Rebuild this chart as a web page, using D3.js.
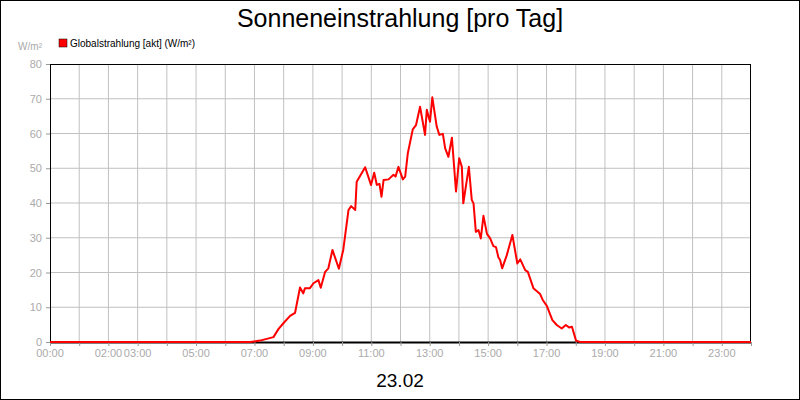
<!DOCTYPE html>
<html><head><meta charset="utf-8">
<script src="https://cdn.jsdelivr.net/npm/d3@7"></script>
<style>body{margin:0;background:#fff}svg{display:block}</style>
</head><body>
<svg id="c" width="800" height="400"></svg>
<script>
const hours=[0,6.85,7.19,7.65,7.82,7.99,8.22,8.39,8.56,8.67,8.73,8.90,9.02,9.19,9.27,9.42,9.53,9.67,9.89,10.04,10.22,10.31,10.45,10.50,10.79,10.99,11.10,11.19,11.28,11.35,11.42,11.59,11.76,11.83,11.93,12.08,12.16,12.25,12.42,12.53,12.67,12.84,12.90,13.01,13.09,13.24,13.33,13.45,13.53,13.64,13.76,13.90,14.01,14.10,14.15,14.34,14.44,14.50,14.58,14.67,14.75,14.84,14.96,15.07,15.18,15.27,15.35,15.41,15.48,15.64,15.83,16.00,16.10,16.27,16.36,16.55,16.78,16.87,17.01,17.20,17.35,17.52,17.66,17.77,17.87,18.01,18.15,24];
const values=[0,0,0.4,1.4,3.7,5.4,7.5,8.4,15.7,14.0,15.5,15.5,16.9,17.8,15.6,20.2,21.2,26.5,21.1,26.5,38.0,39.1,38.0,46.1,50.3,45.2,48.7,45.2,45.5,41.8,46.6,46.8,48.1,47.6,50.4,46.8,47.6,54.3,61.2,62.4,67.7,59.6,66.8,63.4,70.4,62.0,59.6,59.9,55.7,53.3,58.8,43.3,52.9,50.4,39.9,50.4,40.9,39.9,31.7,32.2,29.8,36.3,31.1,29.8,27.6,27.3,24.4,23.6,21.2,25.0,30.8,22.6,23.8,20.7,20.2,15.5,13.8,12.1,10.4,6.3,4.9,3.9,4.9,4.2,4.4,0.4,0,0];
const xTickHours=[0,2,3,5,7,9,11,13,15,17,19,21,23];
const yTicks=[0,10,20,30,40,50,60,70,80];
const title="Sonneneinstrahlung [pro Tag]", legendLabel="Globalstrahlung [akt] (W/m²)", unit="W/m²", dateLabel="23.02";

const svg=d3.select("#c");
svg.append("rect").attr("x",0.5).attr("y",0.5).attr("width",799).attr("height",399).attr("fill","#fff").attr("stroke","#000");
const L=50,R=751,T=64,B=342;
const x=d3.scaleLinear().domain([0,24]).range([L,R]);
const y=d3.scaleLinear().domain([0,80]).range([B,T]);
const g=svg.append("g");
g.selectAll(".vg").data(d3.range(1,24)).join("line").attr("x1",d=>x(d)).attr("x2",d=>x(d)).attr("y1",T).attr("y2",B).attr("stroke","#c0c0c0");
g.selectAll(".hg").data(yTicks.slice(1,-1)).join("line").attr("x1",L).attr("x2",R).attr("y1",d=>y(d)).attr("y2",d=>y(d)).attr("stroke","#c0c0c0");
svg.append("rect").attr("x",L+0.5).attr("y",T+0.5).attr("width",R-L-1).attr("height",B-T).attr("fill","none").attr("stroke","#000");
svg.append("line").attr("x1",L).attr("x2",R).attr("y1",B+0.5).attr("y2",B+0.5).attr("stroke","#000").attr("stroke-width",2);
svg.selectAll(".yt").data(yTicks).join("line").attr("x1",L-4).attr("x2",L).attr("y1",d=>y(d)+0.5).attr("y2",d=>y(d)+0.5).attr("stroke","#999");
svg.selectAll(".yl").data(yTicks).join("text").attr("x",L-8).attr("y",d=>y(d)+4).attr("text-anchor","end").attr("font-family","Liberation Sans, Arial").attr("font-size",11).attr("fill","#aaa").text(d=>d);
svg.selectAll(".xt").data(d3.range(0,25)).join("line").attr("x1",d=>x(d)+0.5).attr("x2",d=>x(d)+0.5).attr("y1",B).attr("y2",B+4).attr("stroke","#999");
svg.selectAll(".xl").data(xTickHours).join("text").attr("x",d=>x(d)).attr("y",B+15).attr("text-anchor","middle").attr("font-family","Liberation Sans, Arial").attr("font-size",11).attr("fill","#aaa").text(d=>String(d).padStart(2,"0")+":00");
const line=d3.line().x((d,i)=>x(hours[i])).y(d=>y(d));
svg.append("path").datum(values).attr("d",line).attr("fill","none").attr("stroke","#f00").attr("stroke-width",2).attr("stroke-linejoin","round");
svg.append("text").attr("x",400).attr("y",27).attr("text-anchor","middle").attr("font-family","Liberation Sans, Arial").attr("font-size",25).text(title);
svg.append("text").attr("x",L-8).attr("y",50).attr("text-anchor","end").attr("font-family","Liberation Sans, Arial").attr("font-size",10).attr("fill","#aaa").text(unit);
svg.append("rect").attr("x",59).attr("y",39).attr("width",8).attr("height",8).attr("fill","#f00").attr("stroke","#000").attr("stroke-width",0.5);
svg.append("text").attr("x",70).attr("y",47).attr("font-family","Liberation Sans, Arial").attr("font-size",10).text(legendLabel);
svg.append("text").attr("x",400).attr("y",387).attr("text-anchor","middle").attr("font-family","Liberation Sans, Arial").attr("font-size",19).text(dateLabel);
</script></body></html>
